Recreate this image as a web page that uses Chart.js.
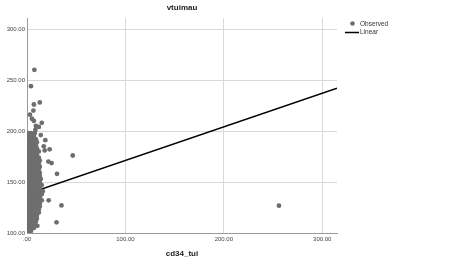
<!DOCTYPE html>
<html>
<head>
<meta charset="utf-8">
<script src="https://cdn.jsdelivr.net/npm/chart.js@4/dist/chart.umd.min.js"></script>
<style>
html,body{margin:0;padding:0;background:#fff;}
#wrap{width:451px;height:266px;}
</style>
</head>
<body>
<div id="wrap"><canvas id="c" width="451" height="266"></canvas></div>
<script>
const chartTitle = "vtuimau";
const xTitle = "cd34_tui";
const legendLabels = ["Observed", "Linear"];
const xTicks = [0, 100, 200, 300];
const yTicks = [100, 150, 200, 250, 300];

// dense cluster: one y value per row and the x values seen on that row
const clusterY = [102,105,108,111,114,117,120,123,126,129,132,135,138,141,144,147,150,153,156,159,162,165,168,171,174,177,180,183,186,189,192,195,198];
const clusterX = [
  [1,4],[1,4,7],[1,4,7],[1,4,7,9],[1,4,7,10],[1,4,7,10],[1,4,7,10,12],[1,4,7,10,12],
  [1,4,7,10,13],[1,4,7,10,13],[1,4,7,10,13,15],[1,4,7,10,13],[1,4,7,10,13,15],[1,4,7,10,13,16],
  [1,4,7,10,13],[1,4,7,10,13,15],[1,4,7,10,13],[1,4,7,10,13,14],[1,4,7,10,13],[1,4,7,10,13],
  [1,4,7,10,12],[1,4,7,10,13],[1,4,7,10,12],[1,4,7,10,13],[1,4,7,10,12],[1,4,7,10],
  [1,4,7,10,12],[1,4,7,10],[1,4,7,9],[1,4,7,10],[1,4,7,9],[1,4,7],[1,4,8]
];
// scattered points outside the cluster
const outlierX = [7.5, 4, 7, 13, 6.5, 5, 7, 15, 8.5, 18.6, 23, 18, 46.5, 21.7, 25, 30.5, 22, 35, 30, 10.5, 4, 256, 12, 14, 3, 9, 17];
const outlierY = [260, 244, 226, 228, 220, 212, 210, 208, 201, 191, 182, 181, 176, 170, 168.6, 158, 132, 127, 110.5, 107, 103, 126.8, 204, 196, 216, 205, 185];

// fitted linear line (read at both ends of the x range)
const fitX = [0, 315];
const fitY = [138.2, 242];

const observed = [];
clusterY.forEach((y, i) => clusterX[i].forEach(x => observed.push({x: x, y: y})));
outlierX.forEach((x, i) => observed.push({x: x, y: outlierY[i]}));
const fitLine = fitX.map((x, i) => ({x: x, y: fitY[i]}));

const pointColor = "#6e6e6e";
const fontFam = "'Liberation Sans', Arial, sans-serif";

const decor = {
  id: "decor",
  afterDraw(chart) {
    const ctx = chart.ctx;
    const a = chart.chartArea;
    const cx = (a.left + a.right) / 2;
    ctx.save();
    ctx.fillStyle = "#222";
    ctx.textAlign = "center";
    ctx.textBaseline = "middle";
    ctx.font = "bold 8px " + fontFam;
    ctx.fillText(chartTitle, cx, 8);
    ctx.fillText(xTitle, cx, 254);
    // legend
    ctx.fillStyle = pointColor;
    ctx.beginPath();
    ctx.arc(352.5, 23.5, 2.3, 0, Math.PI * 2);
    ctx.fill();
    ctx.strokeStyle = "#000";
    ctx.lineWidth = 1.5;
    ctx.beginPath();
    ctx.moveTo(345, 32.5);
    ctx.lineTo(359, 32.5);
    ctx.stroke();
    ctx.fillStyle = "#333";
    ctx.textAlign = "left";
    ctx.font = "6.5px " + fontFam;
    ctx.fillText(legendLabels[0], 360, 24);
    ctx.fillText(legendLabels[1], 360, 32.5);
    ctx.restore();
  }
};

new Chart(document.getElementById("c"), {
  type: "scatter",
  data: {
    datasets: [
      {
        label: legendLabels[0],
        data: observed,
        backgroundColor: pointColor,
        borderColor: pointColor,
        borderWidth: 0,
        pointRadius: 2.4,
        pointHoverRadius: 2.4
      },
      {
        type: "line",
        label: legendLabels[1],
        data: fitLine,
        borderColor: "#000",
        borderWidth: 1.5,
        pointRadius: 0,
        fill: false,
        tension: 0
      }
    ]
  },
  options: {
    responsive: false,
    animation: false,
    events: [],
    layout: {padding: {top: 18, right: 114, left: 0, bottom: 0}},
    plugins: {legend: {display: false}, title: {display: false}, tooltip: {enabled: false}},
    scales: {
      x: {
        type: "linear",
        min: 0,
        max: 315,
        afterBuildTicks: s => { s.ticks = xTicks.map(v => ({value: v})); },
        afterFit: s => { s.height = 33; },
        ticks: {
          callback: v => v === 0 ? ".00" : v.toFixed(2),
          font: {size: 6, family: fontFam},
          color: "#444",
          padding: 3,
          maxRotation: 0
        },
        grid: {color: "#d9d9d9", lineWidth: 1, drawTicks: false},
        border: {display: true, color: "#9a9a9a", width: 1}
      },
      y: {
        type: "linear",
        min: 100,
        max: 310.8,
        afterBuildTicks: s => { s.ticks = yTicks.map(v => ({value: v})); },
        afterFit: s => { s.width = 27; },
        ticks: {
          callback: v => v.toFixed(2),
          font: {size: 6, family: fontFam},
          color: "#444",
          padding: 2
        },
        grid: {color: "#d9d9d9", lineWidth: 1, drawTicks: false},
        border: {display: true, color: "#9a9a9a", width: 1}
      }
    }
  },
  plugins: [decor]
});
</script>
</body>
</html>
